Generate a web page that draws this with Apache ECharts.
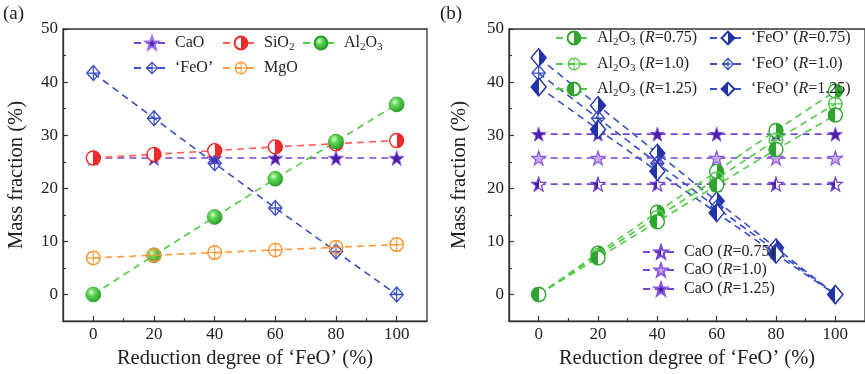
<!DOCTYPE html>
<html><head><meta charset="utf-8">
<script src="https://cdn.jsdelivr.net/npm/echarts@6/dist/echarts.min.js"></script>
<style>html,body{margin:0;padding:0;background:#fff}#c{width:865px;height:374px}</style>
</head><body><div id="c"></div>
<script>
// ---- data ----
const reduction = [0, 20, 40, 60, 80, 100];
const xTicks = [0, 20, 40, 60, 80, 100];
const yTicks = [0, 10, 20, 30, 40, 50];
// panel (a)
const caoA   = [25.7, 25.7, 25.7, 25.7, 25.7, 25.7];
const sio2A  = [25.7, 26.4, 27.1, 27.8, 28.4, 29.0];
const al2o3A = [0, 7.4, 14.6, 21.8, 28.8, 35.8];
const feoA   = [41.7, 33.2, 24.7, 16.3, 8.1, 0];
const mgoA   = [6.9, 7.4, 7.9, 8.4, 8.9, 9.4];
// panel (b)
const al2o3_075 = [0, 7.8, 15.5, 23.2, 30.9, 38.3];
const al2o3_100 = [0, 7.4, 14.6, 21.8, 29.1, 35.9];
const al2o3_125 = [0, 6.9, 13.7, 20.6, 27.3, 33.8];
const feo_075 = [44.6, 35.6, 26.6, 17.6, 8.8, 0];
const feo_100 = [41.7, 33.2, 24.7, 16.4, 8.2, 0];
const feo_125 = [39.1, 31.1, 23.2, 15.4, 7.6, 0];
const cao_075 = [20.8, 20.8, 20.8, 20.8, 20.8, 20.8];
const cao_100 = [25.7, 25.7, 25.7, 25.7, 25.7, 25.7];
const cao_125 = [30.2, 30.2, 30.2, 30.2, 30.2, 30.2];

// ---- styles ----
const FONT = 'Liberation Serif';
const PURPLE = '#7446d6', PURPLE_D = '#4a1fa6';
const BLUE = '#3a4fc6', BLUE_D = '#2233a8';
const GREEN = '#55c94a', GREEN_D = '#2fa52f';
const RED = '#ff5a5a', ORANGE = '#ff9a3c';

const STAR = 'path://M10,0 L12.35,6.76 L19.51,6.91 L13.8,11.24 L15.88,18.09 L10,14 L4.12,18.09 L6.2,11.24 L0.49,6.91 L7.65,6.76 Z';
const RING = 'M10,0 A10,10 0 1,1 10,20 A10,10 0 1,1 10,0 Z M10,2 A8,8 0 1,0 10,18 A8,8 0 1,0 10,2 Z';
const CCROSS = 'path://' + RING + ' M2,9.3 L18,9.3 L18,10.7 L2,10.7 Z M9.3,2 L10.7,2 L10.7,18 L9.3,18 Z';
const DRING = 'M10,0 L20,10 L10,20 L0,10 Z M10,2.4 L2.4,10 L10,17.6 L17.6,10 Z';
const DCROSS = 'path://' + DRING + ' M2.5,9.2 L17.5,9.2 L17.5,10.8 L2.5,10.8 Z M9.2,2.5 L10.8,2.5 L10.8,17.5 L9.2,17.5 Z';

function half(leftCol, rightCol) {
  return new echarts.graphic.LinearGradient(0, 0, 1, 0, [
    {offset: 0, color: leftCol}, {offset: 0.5, color: leftCol},
    {offset: 0.5, color: rightCol}, {offset: 1, color: rightCol}]);
}
const sphere = new echarts.graphic.RadialGradient(0.38, 0.35, 0.7, [
  {offset: 0, color: '#d8ffd0'}, {offset: 0.35, color: '#5fd455'}, {offset: 1, color: '#1f9a25'}]);

const nameMap = {
  'CaO': 'CaO', 'SiO2': 'SiO{s|2}', 'Al2O3': 'Al{s|2}O{s|3}', 'FeO': '‘FeO’', 'MgO': 'MgO',
  'Al2O3 (R=0.75)': 'Al{s|2}O{s|3} ({i|R}=0.75)', 'Al2O3 (R=1.0)': 'Al{s|2}O{s|3} ({i|R}=1.0)',
  'Al2O3 (R=1.25)': 'Al{s|2}O{s|3} ({i|R}=1.25)',
  'FeO (R=0.75)': '‘FeO’ ({i|R}=0.75)', 'FeO (R=1.0)': '‘FeO’ ({i|R}=1.0)', 'FeO (R=1.25)': '‘FeO’ ({i|R}=1.25)',
  'CaO (R=0.75)': 'CaO ({i|R}=0.75)', 'CaO (R=1.0)': 'CaO ({i|R}=1.0)', 'CaO (R=1.25)': 'CaO ({i|R}=1.25)'
};

function mk(name, vals, grid, color, symbol, size, itemStyle, z) {
  return {
    name, type: 'line', xAxisIndex: grid * 2, yAxisIndex: grid * 2,
    data: reduction.map((x, i) => [x, vals[i]]),
    symbol, symbolSize: size, showSymbol: true, z: z || 2,
    lineStyle: {color, width: 1.6, type: [7, 5]},
    itemStyle: Object.assign({color}, itemStyle || {}),
    emphasis: {disabled: true}, animation: false
  };
}

const series = [
  mk('CaO', caoA, 0, PURPLE, STAR, 15, {color: PURPLE_D, borderColor: '#9a70ee', borderWidth: 1}),
  mk('SiO2', sio2A, 0, RED, 'circle', 14, {color: half('#ffffff', '#ee2a2a'), borderColor: '#ee2a2a', borderWidth: 1.4}),
  mk('Al2O3', al2o3A, 0, GREEN, 'circle', 15, {color: sphere, borderColor: '#2a9a2a', borderWidth: 0.6}),
  mk('FeO', feoA, 0, BLUE, DCROSS, [15, 17], {color: BLUE}),
  mk('MgO', mgoA, 0, ORANGE, CCROSS, 15, {color: ORANGE}),

  mk('CaO (R=0.75)', cao_075, 1, PURPLE, STAR, 14, {color: half(PURPLE_D, '#ffffff'), borderColor: PURPLE, borderWidth: 1.2}),
  mk('CaO (R=1.0)', cao_100, 1, PURPLE, STAR, 14, {color: '#c9a8f2', borderColor: '#8a5ae0', borderWidth: 1.2}),
  mk('CaO (R=1.25)', cao_125, 1, PURPLE, STAR, 14, {color: PURPLE_D, borderColor: '#8a5ae0', borderWidth: 1}),
  mk('Al2O3 (R=0.75)', al2o3_075, 1, GREEN, 'circle', 14, {color: half('#ffffff', GREEN_D), borderColor: GREEN_D, borderWidth: 1.4}, 3),
  mk('Al2O3 (R=1.0)', al2o3_100, 1, GREEN, CCROSS, 15, {color: GREEN}, 3),
  mk('Al2O3 (R=1.25)', al2o3_125, 1, GREEN, 'circle', 14, {color: half(GREEN_D, '#ffffff'), borderColor: GREEN_D, borderWidth: 1.4}, 3),
  mk('FeO (R=0.75)', feo_075, 1, BLUE, 'diamond', [15, 18], {color: half('#ffffff', BLUE_D), borderColor: BLUE_D, borderWidth: 1.4}),
  mk('FeO (R=1.0)', feo_100, 1, BLUE, DCROSS, [15, 17], {color: BLUE}),
  mk('FeO (R=1.25)', feo_125, 1, BLUE, 'diamond', [15, 18], {color: half(BLUE_D, '#ffffff'), borderColor: BLUE_D, borderWidth: 1.4})
];

const legendText = {
  fontFamily: FONT, fontSize: 16, color: '#222',
  rich: {
    s: {fontFamily: FONT, fontSize: 11, color: '#222', verticalAlign: 'bottom', padding: [8, 0, 0, 0]},
    i: {fontFamily: FONT, fontSize: 16, color: '#222', fontStyle: 'italic'}
  }
};
function lg(name, left, cy) {
  return {
    data: [name], left, top: cy - 9, itemWidth: 36, itemHeight: 16, itemGap: 6,
    padding: 0, selectedMode: false, textStyle: legendText,
    formatter: n => nameMap[n] || n
  };
}
const legends = [
  lg('CaO', 133, 44), lg('SiO2', 222, 44), lg('Al2O3', 302, 44),
  lg('FeO', 133, 69), lg('MgO', 222, 69),
  lg('Al2O3 (R=0.75)', 555, 39), lg('Al2O3 (R=1.0)', 555, 65), lg('Al2O3 (R=1.25)', 555, 90),
  lg('FeO (R=0.75)', 709, 39), lg('FeO (R=1.0)', 709, 65), lg('FeO (R=1.25)', 709, 90),
  lg('CaO (R=0.75)', 642, 253), lg('CaO (R=1.0)', 642, 271), lg('CaO (R=1.25)', 642, 290)
];

const AXC = '#333';
function xMain(grid) {
  return {
    type: 'value', gridIndex: grid, min: -10, max: 110, interval: 10, position: 'bottom',
    name: 'Reduction degree of ‘FeO’ (%)', nameLocation: 'middle', nameGap: 21,
    nameTextStyle: {fontFamily: FONT, fontSize: 20.5, color: '#222'},
    axisLine: {show: true, onZero: false, lineStyle: {color: AXC, width: 1.3}},
    axisTick: {show: true, inside: true, length: 5, customValues: xTicks, lineStyle: {color: AXC, width: 1.2}},
    axisLabel: {customValues: xTicks, fontFamily: FONT, fontSize: 17, color: '#222', margin: 5},
    splitLine: {show: false}
  };
}
function xMinor(grid) {
  return {
    type: 'value', gridIndex: grid, min: -10, max: 110, interval: 10, position: 'bottom',
    axisLine: {show: false, onZero: false},
    axisTick: {show: true, inside: true, length: 3, customValues: [10, 30, 50, 70, 90], lineStyle: {color: AXC, width: 1.2}},
    axisLabel: {show: false}, splitLine: {show: false}
  };
}
function yMain(grid, gap) {
  return {
    type: 'value', gridIndex: grid, min: -5, max: 50, interval: 5, position: 'left',
    name: 'Mass fraction (%)', nameLocation: 'middle', nameGap: gap,
    nameTextStyle: {fontFamily: FONT, fontSize: 20.5, color: '#222'},
    axisLine: {show: true, onZero: false, lineStyle: {color: AXC, width: 1.3}},
    axisTick: {show: true, inside: true, length: 5, customValues: yTicks, lineStyle: {color: AXC, width: 1.2}},
    axisLabel: {customValues: yTicks, fontFamily: FONT, fontSize: 17, color: '#222', margin: 5},
    splitLine: {show: false}
  };
}
function yMinor(grid) {
  return {
    type: 'value', gridIndex: grid, min: -5, max: 50, interval: 5, position: 'left',
    axisLine: {show: false, onZero: false},
    axisTick: {show: true, inside: true, length: 3, customValues: [5, 15, 25, 35, 45], lineStyle: {color: AXC, width: 1.2}},
    axisLabel: {show: false}, splitLine: {show: false}
  };
}

const chart = echarts.init(document.getElementById('c'), null, {renderer: 'canvas'});
chart.setOption({
  backgroundColor: '#fff',
  animation: false,
  grid: [
    {left: 63, top: 29, width: 364, height: 293, show: true, borderColor: AXC, borderWidth: 1.3, backgroundColor: 'transparent'},
    {left: 509, top: 29, width: 364, height: 293, show: true, borderColor: AXC, borderWidth: 1.3, backgroundColor: 'transparent'}
  ],
  xAxis: [xMain(0), xMinor(0), xMain(1), xMinor(1)],
  yAxis: [yMain(0, 36), yMinor(0), yMain(1, 39), yMinor(1)],
  legend: legends,
  series,
  graphic: [
    {type: 'text', left: 3, top: 5, style: {text: '(a)', fontFamily: FONT, fontSize: 19, fill: '#222'}},
    {type: 'text', left: 440, top: 5, style: {text: '(b)', fontFamily: FONT, fontSize: 19, fill: '#222'}}
  ]
});
</script></body></html>
